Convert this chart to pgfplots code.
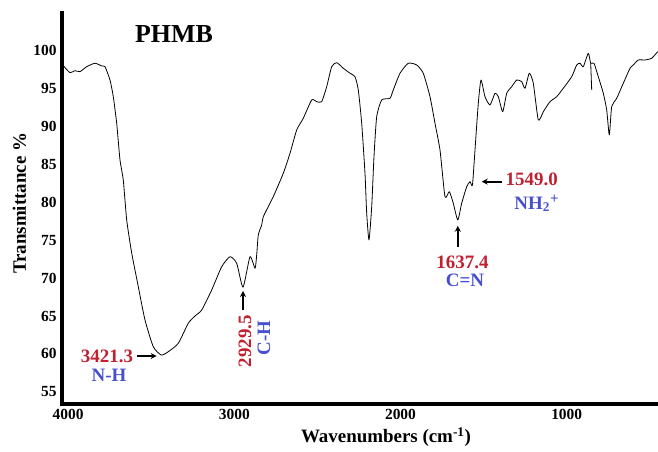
\documentclass[border=0pt]{standalone}
\usepackage{fontspec}
\setmainfont{Liberation Serif}
\usepackage{pgfplots}
\pgfplotsset{compat=1.18}
\usetikzlibrary{arrows.meta}
\definecolor{annred}{RGB}{192,32,48}
\definecolor{annblue}{RGB}{70,80,205}
\tikzset{
  ann/.style={font=\fontsize{19}{20}\selectfont\bfseries, inner sep=0pt},
  arr/.style={-{Stealth[length=6bp,width=6bp]}, line width=1.8bp},
}
\begin{document}
\begin{tikzpicture}
\path[use as bounding box] (-62bp,-48bp) rectangle (596bp,404bp);
\begin{axis}[
  at={(0,0)}, anchor=south west,
  scale only axis,
  width=596bp, height=391bp,
  x dir=reverse,
  xmin=432.6, xmax=4018.7,
  ymin=53.39, ymax=104.97,
  axis x line*=bottom, axis y line*=left,
  axis line style={line width=4bp, -, line cap=rect},
  xtick={1000,2000,3000,4000},
  ytick={55,60,65,70,75,80,85,90,95,100},
  major tick length=0pt,
  minor tick num=0,
  /pgf/number format/assume math mode=true,
  /pgf/number format/1000 sep={},
  ticklabel style={font=\fontsize{15.5}{16}\selectfont\bfseries},
  xticklabel style={xshift=3bp, yshift=-2bp},
  yticklabel style={xshift=-2bp},
  xlabel={Wavenumbers (cm\textsuperscript{-1})},
  ylabel={Transmittance \%},
  label style={font=\fontsize{19}{20}\selectfont\bfseries},
  xlabel style={at={(axis description cs:0.5436,-0.084)}, anchor=center},
  ylabel style={at={(axis description cs:-0.0713,0.513)}, anchor=center},
  clip=false,
]
\addplot[black, line width=0.8bp, line join=round, smooth, tension=0.35] coordinates {
(4010.9,98.02) (3970.6,97.10) (3940.5,97.36) (3910.4,97.23) (3870.1,97.89)
(3820.1,98.34) (3779.8,97.98) (3760,97.89) (3729.9,96.13) (3710,93.93)
(3689.6,90.42) (3669.7,85.58) (3649.9,82.94) (3629.4,77.67) (3599.3,73.31)
(3559.6,68.87) (3519.3,64.47) (3469.4,60.95) (3421.3,59.85) (3379.1,60.29)
(3318.9,61.40) (3258.8,64.04) (3218.4,65.0) (3178.1,65.79) (3118,68.43)
(3057.8,71.50) (3007.8,72.82) (2967.5,71.95) (2929.5,68.80) (2887.5,72.82)
(2857.4,71.29) (2847.2,73.05) (2837.6,75.69) (2817.1,77.0) (2807.5,78.10)
(2747.3,80.74) (2687.1,83.83) (2646.8,86.46) (2606.5,89.54) (2566.8,91.08)
(2516.3,93.50) (2486.2,93.27) (2456.1,93.27) (2426,95.25) (2395.9,97.89)
(2365.8,98.42) (2326.1,97.68) (2285.8,97.02) (2255.7,96.57) (2235.9,94.82)
(2215.4,90.42) (2195.6,83.83) (2185.3,78.55) (2171.5,75.03) (2155.2,79.42)
(2141.4,86.02) (2125.2,91.29) (2095.1,93.50) (2045.1,93.72) (2025.3,94.82)
(1985,97.02) (1935,98.34) (1884.5,98.11) (1844.8,97.02) (1804.4,93.93)
(1774.4,90.42) (1744.3,86.90) (1714.2,80.74) (1688.3,81.40) (1664.3,79.87)
(1637.4,77.67) (1613.7,79.87) (1583.6,82.06) (1563.8,82.72) (1549.0,82.28)
(1533.7,86.90) (1513.8,93.06) (1497.6,96.13) (1473.5,93.93) (1443.4,92.84)
(1413.3,94.38) (1393.5,93.93) (1367,91.95) (1342.9,94.38) (1312.9,95.25)
(1282.8,96.13) (1252.7,95.91) (1232.8,95.04) (1207,97.02) (1182.9,95.70)
(1152.8,90.86) (1122.7,91.95) (1082.4,93.27) (1042.1,93.93) (1002.4,95.04)
(951.8,96.57) (921.8,98.11) (901.9,98.34) (882,97.89) (852,99.66)
(837.5,98.34) (817.7,98.34) (791.8,96.57) (761.7,94.38) (741.2,92.18)
(725.6,88.88) (711.2,92.61) (681.1,93.72) (641.4,95.70) (601,97.68)
(581.2,98.11) (551.1,98.77) (510.8,98.77) (470.5,99.0) (434.4,99.87)
};
\addplot[black, line width=0.8bp] coordinates {(837.5,98.34) (831.5,94.82)};
% title
\node[font=\fontsize{26}{28}\selectfont\bfseries] at (axis cs:3344.8,102.2) {PHMB};
% annotations
\node[ann, text=annred] at (axis cs:3748,59.63) {3421.3};
\draw[arr] (axis cs:3569,59.72) -- (axis cs:3449,59.72);
\node[ann, text=annblue] at (axis cs:3736,57.22) {N-H};
\node[ann, text=annred, rotate=90] at (axis cs:2917.6,61.70) {2929.5};
\node[ann, text=annblue, rotate=90] at (axis cs:2803,62.10) {C-H};
\draw[arr] (axis cs:2929.5,65.79) -- (axis cs:2929.5,68.3);
\node[ann, text=annred] at (axis cs:1609,72.03) {1637.4};
\node[ann, text=annblue] at (axis cs:1594,69.70) {C=N};
\draw[arr] (axis cs:1637.4,74.14) -- (axis cs:1637.4,76.9);
\node[ann, text=annred] at (axis cs:1192.5,83.0) {1549.0};
\draw[arr] (axis cs:1373,82.72) -- (axis cs:1493.4,82.72);
\node[ann, text=annblue] at (axis cs:1163.6,79.85) {NH\textsubscript{2}\raisebox{0.65ex}{\fontsize{15}{15}\selectfont +}};
\end{axis}
\end{tikzpicture}
\end{document}
